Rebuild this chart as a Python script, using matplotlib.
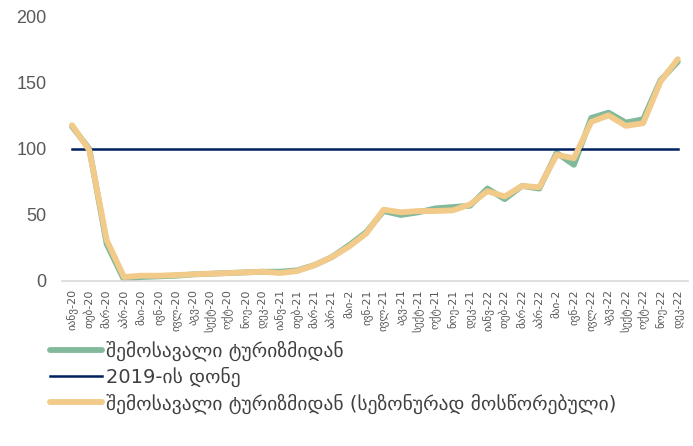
import matplotlib.pyplot as plt

plt.rcParams['font.family'] = ['DejaVu Sans']

months = ['იანვ', 'თებ', 'მარ', 'აპრ', 'მაი', 'ივნ', 'ივლ', 'აგვ', 'სექტ', 'ოქტ', 'ნოე', 'დეკ']
labels = []
for yr in ['20', '21', '22']:
    for m in months:
        # the source workbook clips May to "მაი-2" in 2021 and 2022
        labels.append(m + '-' + (yr if (m != 'მაი' or yr == '20') else '2'))

tourism = [117, 100, 28, 1, 3, 3.5, 4, 5, 5.5, 6, 6.5, 7,
           7, 8, 12, 18, 27, 37, 53, 50, 52, 55, 56, 57,
           70, 62, 72, 70, 97, 88, 123.5, 127.5, 120, 122.5, 152, 166]
tourism_sa = [118, 99, 31, 3, 4, 4, 4.5, 5, 5.5, 6, 6.5, 7,
              6, 7.5, 12, 18, 26, 36, 54, 52, 53, 53, 53.5, 58,
              68, 64, 72, 71, 95.5, 93, 120.5, 125.5, 117.5, 119.5, 151, 168]
level_2019 = [100] * len(labels)

x = list(range(len(labels)))

fig = plt.figure(figsize=(6.93, 4.46), dpi=100)
ax = fig.add_axes([0.089, 0.370, 0.904, 0.592])

ax.plot(x, tourism, color='#82b99a', lw=4.2, solid_capstyle='round',
        label='შემოსავალი ტურიზმიდან')
ax.plot(x, level_2019, color='#002060', lw=1.8, label='2019-ის დონე')
ax.plot(x, tourism_sa, color='#f2ca8a', lw=4.2, solid_capstyle='round',
        label='შემოსავალი ტურიზმიდან (სეზონურად მოსწორებული)')

ax.set_ylim(0, 200)
ax.set_xlim(-0.6, 35.6)
ax.set_yticks([0, 50, 100, 150, 200])
ax.set_yticklabels(['0', '50', '100', '150', '200'], family='Liberation Sans')
ax.set_xticks(x)
ax.set_xticklabels(labels, rotation=90, fontsize=8, color='#595959')
ax.tick_params(axis='y', labelsize=13, labelcolor='#595959', length=0, pad=11)
ax.tick_params(axis='x', length=0, pad=6)

for s in ['top', 'right', 'left']:
    ax.spines[s].set_visible(False)
ax.spines['bottom'].set_color('#d9d9d9')
ax.spines['bottom'].set_linewidth(1.2)

leg = fig.legend(loc='upper left', bbox_to_anchor=(0.072, 0.236), frameon=False,
                 fontsize=14, handlelength=2.7, handletextpad=0.2,
                 labelspacing=0.3, borderaxespad=0, borderpad=0)
for t in leg.get_texts():
    t.set_color('#404040')

fig.savefig('out.png', dpi=100)
